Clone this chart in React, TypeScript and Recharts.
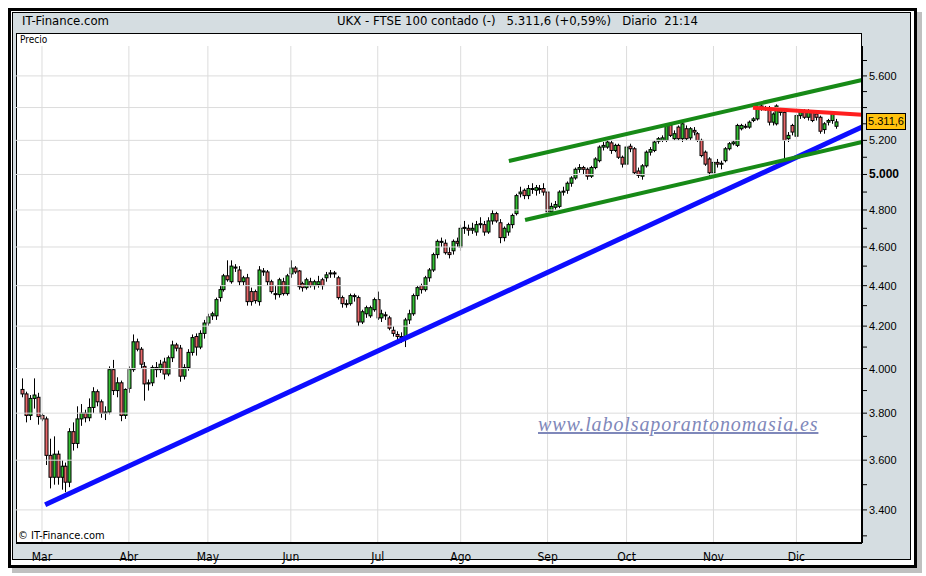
import React from "react";
import { ComposedChart, Bar, XAxis, YAxis, ReferenceLine } from "recharts";

// ---- data: daily OHLC [open, high, low, close] per month (FTSE 100, 2009) ----
const feb: number[][] = [
  [3905, 3955, 3870, 3885], [3885, 3895, 3760, 3790], [3790, 3880, 3770, 3865],
  [3865, 3955, 3820, 3880], [3870, 3890, 3750, 3785],
];
const mar: number[][] = [
  [3790, 3800, 3765, 3775], [3775, 3785, 3580, 3620], [3620, 3690, 3485, 3530],
  [3530, 3700, 3500, 3625], [3625, 3640, 3500, 3530], [3530, 3600, 3480, 3575],
  [3575, 3590, 3470, 3510], [3510, 3735, 3490, 3720], [3720, 3760, 3640, 3670],
  [3670, 3830, 3650, 3775], [3775, 3840, 3745, 3800], [3800, 3815, 3760, 3780],
  [3780, 3865, 3765, 3825], [3825, 3915, 3800, 3895], [3895, 3905, 3830, 3850],
  [3850, 3860, 3780, 3800], [3800, 3830, 3770, 3805], [3805, 4010, 3795, 3995],
  [3995, 4040, 3880, 3900], [3900, 3960, 3870, 3935], [3935, 3945, 3765, 3790],
  [3790, 3910, 3775, 3905],
];
const abr: number[][] = [
  [3910, 4010, 3890, 3995], [3995, 4160, 3985, 4125], [4125, 4140, 4080, 4090],
  [4090, 4100, 4000, 4020], [4010, 4030, 3855, 3930], [3930, 3950, 3900, 3935],
  [3935, 4015, 3920, 4005], [4005, 4030, 3960, 3995], [3995, 4040, 3980, 4020],
  [4030, 4050, 3950, 3975], [3975, 4060, 3965, 4050], [4050, 4130, 4030, 4110],
  [4110, 4120, 4080, 4095], [4095, 4110, 3940, 3965], [3965, 4020, 3950, 4005],
  [4005, 4090, 3990, 4075], [4075, 4160, 4060, 4145], [4150, 4165, 4060, 4100],
  [4100, 4180, 4090, 4165], [4165, 4230, 4140, 4215],
];
const may: number[][] = [
  [4215, 4260, 4200, 4245], [4250, 4270, 4230, 4260], [4250, 4340, 4230, 4330],
  [4340, 4400, 4320, 4380], [4380, 4460, 4370, 4450], [4450, 4530, 4420, 4430],
  [4420, 4530, 4410, 4500], [4495, 4510, 4470, 4490], [4480, 4500, 4400, 4420],
  [4420, 4450, 4400, 4440], [4440, 4460, 4300, 4320], [4370, 4390, 4300, 4320],
  [4370, 4380, 4310, 4325], [4320, 4500, 4300, 4480], [4475, 4490, 4450, 4470],
  [4470, 4480, 4400, 4420], [4420, 4430, 4360, 4370], [4360, 4400, 4330, 4355],
  [4355, 4440, 4340, 4430], [4420, 4440, 4350, 4360], [4360, 4460, 4350, 4450],
];
const jun: number[][] = [
  [4460, 4530, 4440, 4490], [4490, 4500, 4460, 4470], [4475, 4480, 4380, 4395],
  [4410, 4420, 4370, 4390], [4390, 4440, 4380, 4430], [4420, 4440, 4390, 4400],
  [4400, 4430, 4380, 4420], [4405, 4450, 4390, 4420], [4430, 4440, 4380, 4400],
  [4440, 4470, 4420, 4455], [4460, 4480, 4440, 4465], [4465, 4475, 4440, 4460],
  [4440, 4450, 4330, 4340], [4340, 4350, 4290, 4310], [4310, 4330, 4290, 4310],
  [4310, 4360, 4300, 4350], [4350, 4360, 4320, 4345], [4340, 4350, 4200, 4220],
  [4220, 4280, 4210, 4270], [4260, 4300, 4240, 4290], [4250, 4300, 4240, 4290],
  [4280, 4340, 4270, 4330],
];
const jul: number[][] = [
  [4330, 4370, 4230, 4240], [4240, 4280, 4220, 4260], [4255, 4270, 4230, 4250],
  [4240, 4250, 4180, 4190], [4180, 4200, 4150, 4165], [4160, 4175, 4130, 4150],
  [4150, 4170, 4120, 4150], [4140, 4240, 4100, 4230], [4230, 4280, 4210, 4260],
  [4260, 4360, 4250, 4350], [4350, 4400, 4330, 4390], [4400, 4410, 4360, 4380],
  [4380, 4450, 4370, 4440], [4440, 4490, 4420, 4480], [4480, 4570, 4470, 4560],
  [4560, 4640, 4540, 4630], [4625, 4650, 4600, 4630], [4620, 4640, 4560, 4570],
  [4570, 4600, 4540, 4560], [4580, 4640, 4560, 4630], [4630, 4650, 4600, 4620],
];
const ago: number[][] = [
  [4600, 4720, 4580, 4700], [4700, 4740, 4670, 4705], [4700, 4720, 4660, 4690],
  [4690, 4730, 4670, 4700], [4680, 4740, 4660, 4720], [4720, 4760, 4700, 4725],
  [4720, 4740, 4660, 4680], [4680, 4760, 4670, 4740], [4740, 4800, 4720, 4780],
  [4780, 4790, 4730, 4740], [4730, 4750, 4620, 4650], [4650, 4710, 4630, 4700],
  [4680, 4730, 4660, 4720], [4720, 4780, 4700, 4770], [4780, 4890, 4770, 4880],
  [4890, 4930, 4870, 4900], [4910, 4920, 4860, 4880], [4880, 4940, 4860, 4920],
  [4920, 4950, 4890, 4915], [4910, 4940, 4880, 4925], [4920, 4940, 4890, 4920],
  [4920, 4950, 4880, 4900],
];
const sep: number[][] = [
  [4900, 4910, 4770, 4790], [4790, 4840, 4770, 4820], [4815, 4850, 4800, 4830],
  [4820, 4910, 4810, 4900], [4900, 4930, 4880, 4905], [4910, 4960, 4890, 4950],
  [4950, 4990, 4930, 4980], [4980, 5040, 4970, 5030], [5030, 5060, 5010, 5040],
  [5040, 5050, 5000, 5030], [5030, 5040, 4970, 4990], [4990, 5050, 4980, 5040],
  [5040, 5100, 5030, 5090], [5080, 5170, 5070, 5160], [5160, 5190, 5140, 5170],
  [5160, 5210, 5150, 5190], [5185, 5200, 5120, 5140], [5140, 5180, 5130, 5170],
  [5170, 5180, 5090, 5100], [5100, 5110, 5040, 5060],
];
const oct: number[][] = [
  [5060, 5170, 5050, 5160], [5165, 5180, 5130, 5150], [5150, 5160, 5000, 5010],
  [5020, 5040, 4980, 4995], [4990, 5060, 4970, 5050], [5050, 5140, 5040, 5130],
  [5130, 5160, 5110, 5145], [5140, 5200, 5130, 5190], [5195, 5220, 5180, 5210],
  [5200, 5230, 5190, 5215], [5200, 5300, 5190, 5290], [5290, 5310, 5220, 5230],
  [5210, 5260, 5200, 5240], [5280, 5290, 5200, 5210], [5210, 5310, 5190, 5300],
  [5270, 5290, 5200, 5210], [5215, 5280, 5200, 5270], [5260, 5280, 5230, 5250],
  [5240, 5250, 5190, 5200], [5200, 5210, 5100, 5110], [5130, 5140, 5050, 5060],
  [5090, 5100, 4990, 5010],
];
const nov: number[][] = [
  [5010, 5080, 4990, 5070], [5070, 5090, 5040, 5060], [5060, 5080, 5030, 5065],
  [5080, 5160, 5070, 5150], [5150, 5190, 5140, 5180], [5180, 5200, 5170, 5190],
  [5170, 5300, 5160, 5290], [5270, 5300, 5260, 5290], [5285, 5300, 5270, 5280],
  [5280, 5320, 5270, 5310], [5320, 5340, 5310, 5330], [5330, 5410, 5320, 5400],
  [5410, 5420, 5380, 5395], [5395, 5410, 5380, 5395], [5400, 5410, 5290, 5310],
  [5310, 5370, 5290, 5360], [5300, 5420, 5290, 5410], [5370, 5400, 5350, 5390],
  [5370, 5380, 5080, 5200], [5210, 5250, 5190, 5230], [5290, 5300, 5230, 5250],
];
const dic: number[][] = [
  [5225, 5360, 5210, 5350], [5350, 5390, 5330, 5380], [5380, 5390, 5330, 5340],
  [5340, 5390, 5320, 5375], [5370, 5380, 5310, 5320], [5360, 5370, 5320, 5340],
  [5340, 5350, 5240, 5255], [5265, 5310, 5240, 5300], [5310, 5330, 5290, 5320],
  [5320, 5370, 5300, 5360], [5285, 5330, 5270, 5311.6],
];

const monthNames = ["Mar", "Abr", "May", "Jun", "Jul", "Ago", "Sep", "Oct", "Nov", "Dic"];
const monthBlocks = [mar, abr, may, jun, jul, ago, sep, oct, nov, dic];

const priceTicks = [3300, 3400, 3500, 3600, 3700, 3800, 3900, 4000, 4100, 4200, 4300, 4400,
  4500, 4600, 4700, 4800, 4900, 5000, 5100, 5200, 5300, 5400, 5500, 5600, 5700];
const priceLabels = [3400, 3600, 3800, 4000, 4200, 4400, 4600, 4800, 5000, 5200, 5600];
const gridPrices = [3400, 3600, 3800, 4000, 4200, 4400, 4600, 4800, 5000, 5200, 5400, 5600];
const boldPrice = 5000;

const lastChange = "+0,59%";
const headerTitle = "UKX - FTSE 100 contado (-)";
const headerRight = "Diario  21:14";

// hand-drawn trend lines: [tradingDayIndex, price]
const trendLines = [
  { color: "#0d0dff", width: 5, from: [0.8, 3420], to: [207.6, 5281] },
  { color: "#178a17", width: 4, from: [118.2, 5078], to: [207.6, 5574] },
  { color: "#178a17", width: 4, from: [122.3, 4745], to: [207.6, 5190] },
  { color: "#ff1f1f", width: 4, from: [180, 5398], to: [207.6, 5355] },
];

// ---- build rows ----
type Row = { i: number; o: number; h: number; l: number; c: number; range: [number, number] };
const rows: Row[] = [];
feb.forEach((d, k) => {
  const i = k - feb.length;
  rows.push({ i, o: d[0], h: d[1], l: d[2], c: d[3], range: [d[2], d[1]] });
});
const monthStarts: number[] = [];
let idx = 0;
monthBlocks.forEach((blk) => {
  monthStarts.push(idx);
  blk.forEach((d) => {
    rows.push({ i: idx, o: d[0], h: d[1], l: d[2], c: d[3], range: [d[2], d[1]] });
    idx++;
  });
});
const lastClose = rows[rows.length - 1].c;
const fmt = (v: number, dec = 0) => {
  const [a, b] = v.toFixed(dec).split(".");
  const s = a.replace(/\B(?=(\d{3})+(?!\d))/g, ".");
  return b ? `${s},${b}` : s;
};

const X_DOMAIN: [number, number] = [-6.58, 207.6];
const Y_DOMAIN: [number, number] = [3273, 5796];

const Candle = (props: any) => {
  const { x, y, width, height, payload } = props;
  if (!payload || x == null || y == null) return null;
  const { o, h, l, c } = payload;
  const lnH = Math.log(h);
  const lnL = Math.log(l);
  const span = lnH - lnL || 1;
  const py = (v: number) => y + ((lnH - Math.log(v)) / span) * height;
  const cx = Math.round(x + width / 2) + 0.5;
  const top = Math.min(py(o), py(c));
  const bot = Math.max(py(o), py(c));
  const up = c >= o;
  return (
    <g>
      <line x1={cx} x2={cx} y1={y} y2={y + height} stroke="#000" strokeWidth={1} />
      <rect
        x={cx - 1.5}
        y={top}
        width={3}
        height={Math.max(bot - top, 1)}
        fill={up ? "#33c033" : "#e8686b"}
        stroke="#000"
        strokeWidth={1}
      />
    </g>
  );
};

const YTick = (props: any) => {
  const { x, y, payload } = props;
  const v = payload.value;
  if (!priceLabels.includes(v)) return null;
  const bold = v === boldPrice;
  return (
    <text
      x={x}
      y={y}
      dy={4}
      textAnchor="start"
      fontFamily="'Liberation Sans', Arial, sans-serif"
      fontSize={bold ? 12 : 11}
      fontWeight={bold ? 700 : 400}
      fill="#000"
    >
      {fmt(v)}
    </text>
  );
};

const XTick = (props: any) => {
  const { x, y, payload } = props;
  const k = monthStarts.indexOf(payload.value);
  return (
    <text
      x={x}
      y={y}
      dy={10}
      textAnchor="middle"
      fontFamily="'Liberation Sans Narrow', 'DejaVu Sans Condensed', 'Liberation Sans', sans-serif"
      fontSize={12}
      fill="#000"
    >
      {monthNames[k]}
    </text>
  );
};

const narrow = "'Liberation Sans Narrow', 'DejaVu Sans Condensed', 'Liberation Sans', sans-serif";

export default function App() {
  return (
    <div style={{ position: "absolute", left: 0, top: 0, width: 926, height: 576, background: "#fff", overflow: "hidden" }}>
      {/* shadow */}
      <div style={{ position: "absolute", left: 12, top: 12, width: 910, height: 561, background: "#8c8c8c", opacity: 0.55 }} />
      {/* outer frame */}
      <div style={{ position: "absolute", left: 8, top: 8, width: 903, height: 554, border: "3px solid #000", background: "#fff" }} />
      <div style={{ position: "absolute", left: 12, top: 12, width: 899, height: 548, border: "1px solid #000", background: "#d5dde1", boxSizing: "border-box" }} />
      {/* header */}
      <div style={{ position: "absolute", left: 22, top: 13, fontFamily: narrow, fontSize: 13, color: "#000", whiteSpace: "pre" }}>
        IT-Finance.com
      </div>
      <div style={{ position: "absolute", left: 337, top: 13, fontFamily: narrow, fontSize: 13, color: "#000", whiteSpace: "pre" }}>
        {`${headerTitle}   ${fmt(lastClose, 1)} (${lastChange})   ${headerRight}`}
      </div>
      {/* Precio strip */}
      <div style={{ position: "absolute", left: 16, top: 33, width: 846, height: 14, background: "#fff", border: "1px solid #000", boxSizing: "border-box" }} />
      <div style={{ position: "absolute", left: 20, top: 34, fontFamily: narrow, fontSize: 10, color: "#000" }}>Precio</div>
      {/* plot background */}
      <div style={{ position: "absolute", left: 16, top: 46, width: 846, height: 497, background: "#fff", borderLeft: "1px solid #000", boxSizing: "border-box" }} />
      <div style={{ position: "absolute", left: 0, top: 0 }}>
        <ComposedChart
          width={926}
          height={576}
          data={rows}
          margin={{ top: 46, right: 0, bottom: 0, left: 16 }}
        >
          <XAxis
            dataKey="i"
            type="number"
            domain={X_DOMAIN}
            allowDataOverflow
            ticks={monthStarts}
            tick={<XTick />}
            tickLine={false}
            axisLine={{ stroke: "#000", strokeWidth: 2 }}
            height={33}
            interval={0}
          />
          <YAxis
            orientation="right"
            scale="log"
            type="number"
            domain={Y_DOMAIN}
            allowDataOverflow
            ticks={priceTicks}
            tick={<YTick />}
            tickSize={5}
            tickMargin={2}
            tickLine={{ stroke: "#000" }}
            axisLine={{ stroke: "#000", strokeWidth: 2 }}
            width={64}
            interval={0}
          />
          {gridPrices.map((p) => (
            <ReferenceLine key={"h" + p} y={p} stroke="#dcdcdc" strokeWidth={1} />
          ))}
          {monthStarts.map((m) => (
            <ReferenceLine key={"v" + m} x={m} stroke="#dcdcdc" strokeWidth={1} />
          ))}
          <Bar dataKey="range" barSize={4} shape={<Candle />} isAnimationActive={false} />
          {trendLines.map((t, k) => (
            <ReferenceLine
              key={"t" + k}
              segment={[{ x: t.from[0], y: t.from[1] }, { x: t.to[0], y: t.to[1] }]}
              stroke={t.color}
              strokeWidth={t.width}
              ifOverflow="visible"
            />
          ))}
        </ComposedChart>
      </div>
      {/* price box */}
      <div
        style={{
          position: "absolute", left: 866, top: 113, width: 40, height: 17, background: "#ffc20e",
          border: "1px solid #000", boxSizing: "border-box", fontFamily: "'Liberation Sans', Arial, sans-serif",
          fontSize: 11, lineHeight: "15px", textAlign: "center", color: "#000",
        }}
      >
        {fmt(lastClose, 1)}
      </div>
      {/* watermark */}
      <div
        style={{
          position: "absolute", left: 538, top: 413, fontFamily: "'Liberation Serif', 'DejaVu Serif', serif",
          fontStyle: "italic", fontSize: 20, color: "#7f88ba", textDecoration: "underline", letterSpacing: 0.9, whiteSpace: "pre",
        }}
      >
        www.labolsaporantonomasia.es
      </div>
      {/* copyright */}
      <div style={{ position: "absolute", left: 18, top: 529, fontFamily: narrow, fontSize: 11, color: "#000" }}>
        © IT-Finance.com
      </div>
    </div>
  );
}
